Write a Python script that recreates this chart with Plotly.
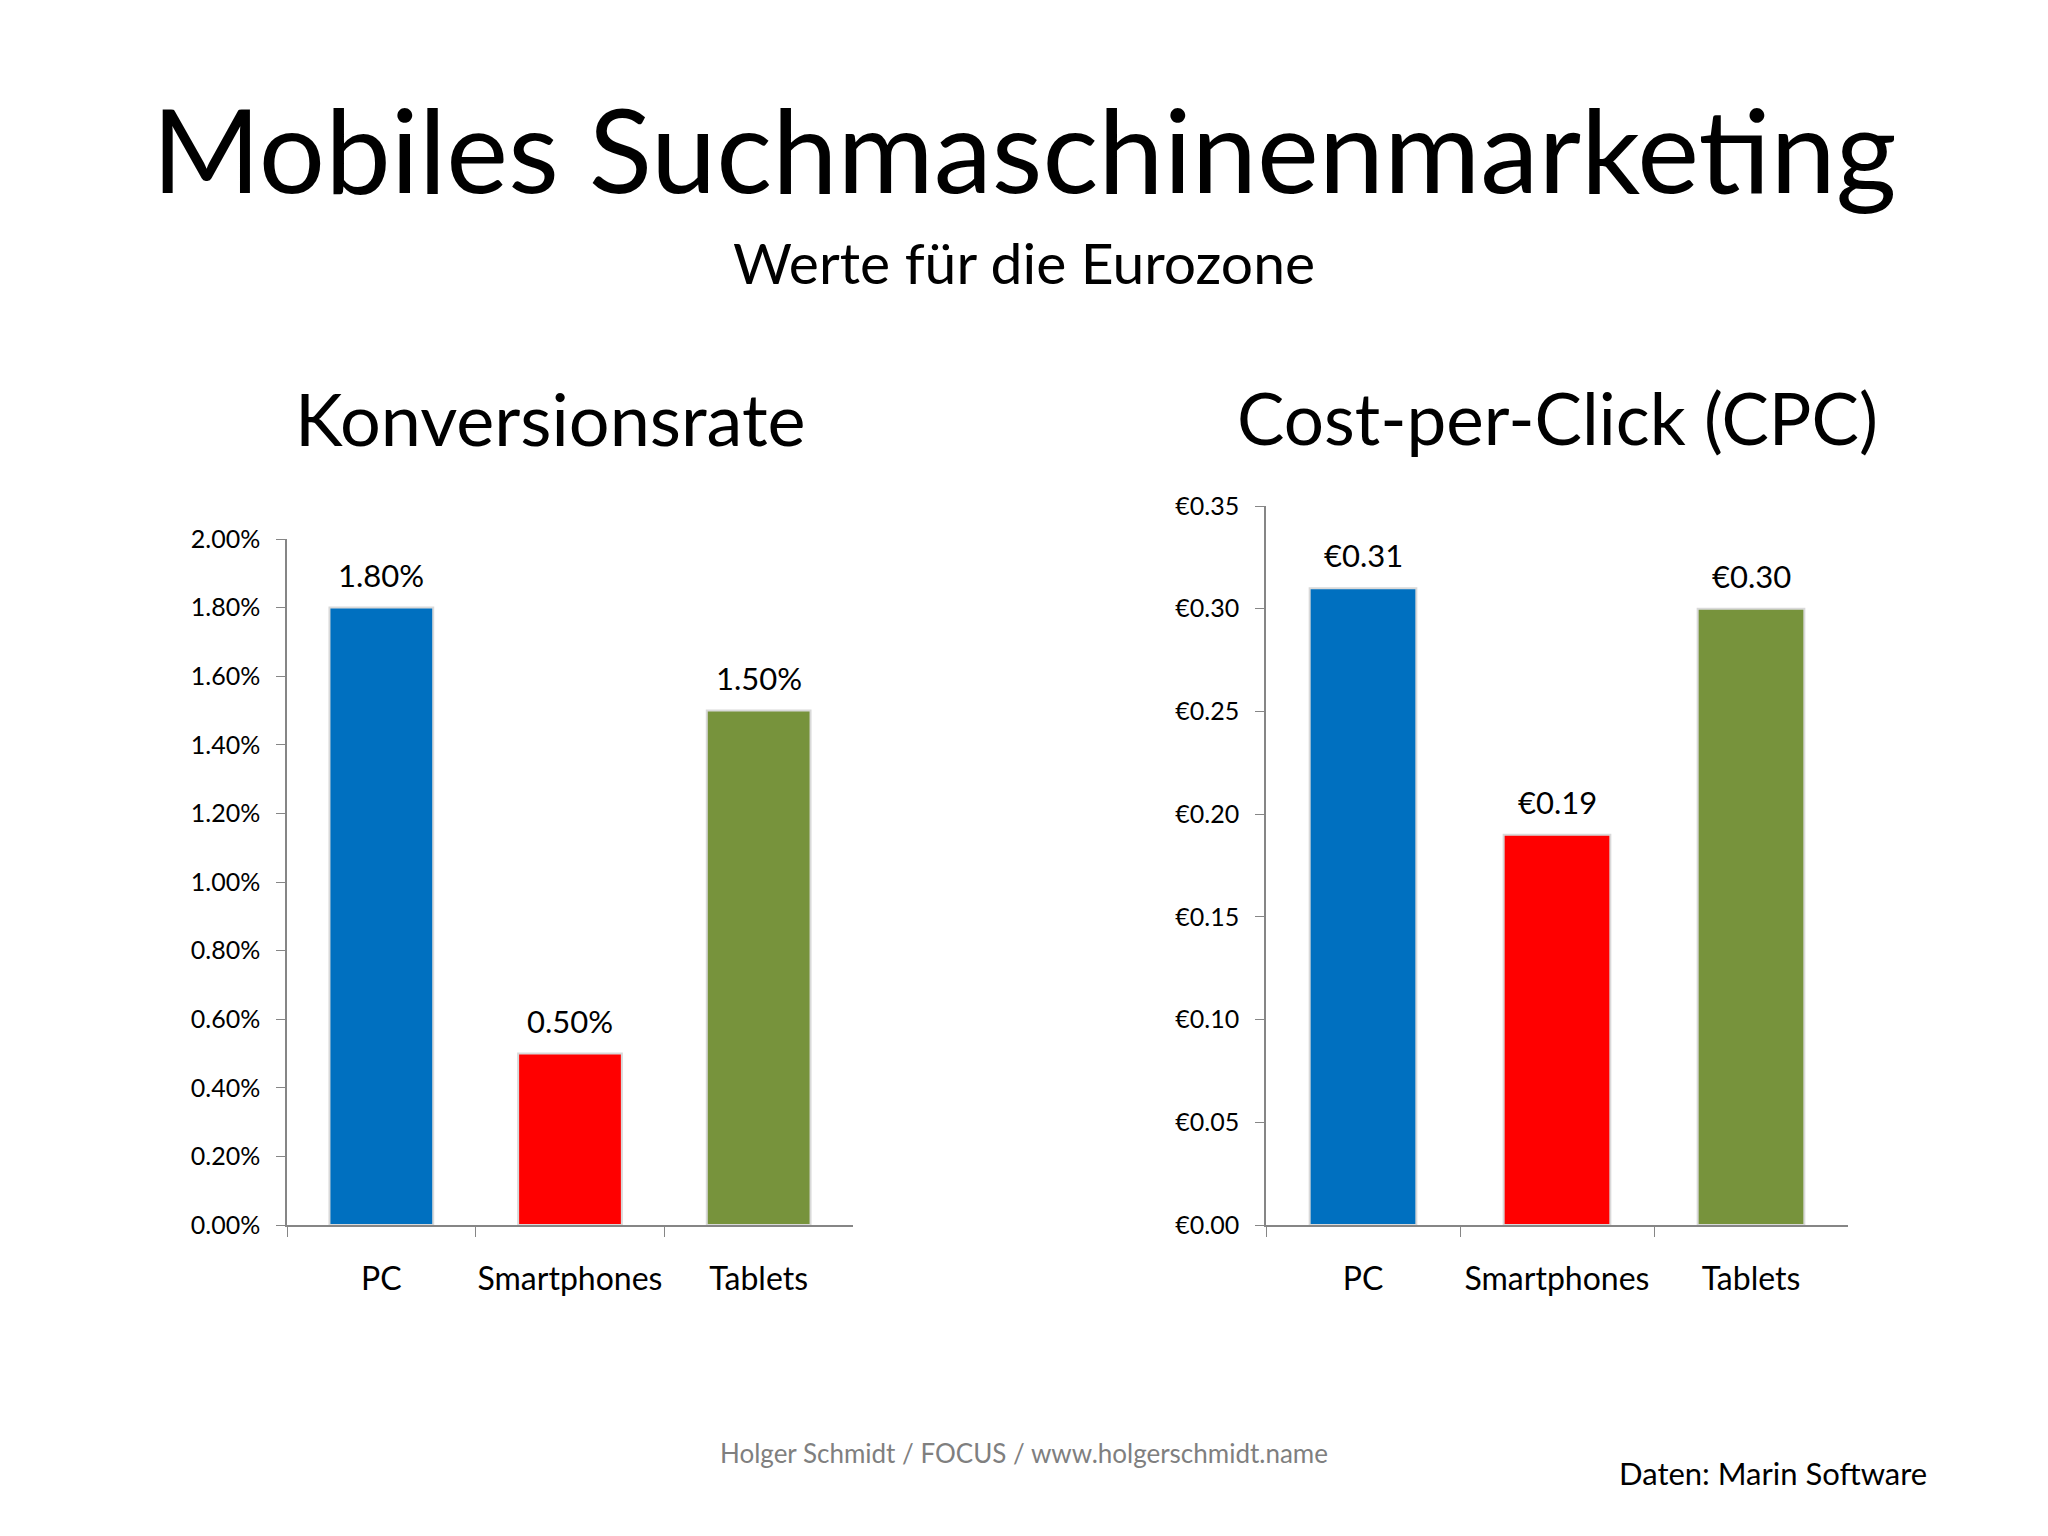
import plotly.graph_objects as go

categories = ["PC", "Smartphones", "Tablets"]
conversion_rate = [0.018, 0.005, 0.015]
cpc_eur = [0.31, 0.19, 0.30]
bar_colors = ["#0070C0", "#FF0000", "#77933C"]

title = "Mobiles Suchmaschinenmarketing"
subtitle = "Werte für die Eurozone"
left_title = "Konversionsrate"
right_title = "Cost-per-Click (CPC)"
footer = "Holger Schmidt / FOCUS / www.holgerschmidt.name"
source = "Daten: Marin Software"

W, H = 2032, 1508
OX, OY = 8, 8
FONT = "Lato"

def px(x):
    return (x - OX) / W

def py(y):
    return 1 - (y - OY) / H

fig = go.Figure()

fig.add_trace(go.Bar(
    x=categories, y=conversion_rate, marker=dict(color=bar_colors, line=dict(color="#d9d9d9", width=2)),
    xaxis="x", yaxis="y", width=0.55, showlegend=False, hoverinfo="skip"))
fig.add_trace(go.Bar(
    x=categories, y=cpc_eur, marker=dict(color=bar_colors, line=dict(color="#d9d9d9", width=2)),
    xaxis="x2", yaxis="y2", width=0.55, showlegend=False, hoverinfo="skip"))

axis_common = dict(showline=True, linecolor="#868686", linewidth=1.5, showgrid=False,
                   zeroline=False, ticks="outside", tickcolor="#868686", fixedrange=True,
                   automargin=False)

fig.update_layout(
    width=W, height=H, margin=dict(l=0, r=0, t=0, b=0, autoexpand=False),
    paper_bgcolor="white", plot_bgcolor="white",
    font=dict(family=FONT, color="black"),
    xaxis=dict(domain=[px(287), px(853)], anchor="y", type="category", tickson="boundaries",
               ticklen=10, tickangle=0, tickfont=dict(size=32), ticklabelstandoff=25, **axis_common),
    yaxis=dict(domain=[py(1225), py(539)], anchor="x", range=[0, 0.02], dtick=0.002,
               tickformat=".2%", ticklen=9, tickfont=dict(size=25), ticklabelstandoff=11, **axis_common),
    xaxis2=dict(domain=[px(1266), px(1848)], anchor="y2", type="category", tickson="boundaries",
                ticklen=10, tickangle=0, tickfont=dict(size=32), ticklabelstandoff=25, **axis_common),
    yaxis2=dict(domain=[py(1225), py(506)], anchor="x2", range=[0, 0.35], dtick=0.05,
                tickprefix="€", tickformat=".2f", ticklen=9, tickfont=dict(size=25),
                ticklabelstandoff=11, **axis_common),
    bargap=0.45,
)

annotations = [
    dict(text=title, x=px(1024), y=py(148), font=dict(size=117)),
    dict(text=subtitle, x=px(1024), y=py(262), font=dict(size=57)),
    dict(text=left_title, x=px(550), y=py(418), font=dict(size=72)),
    dict(text=right_title, x=px(1557), y=py(418), font=dict(size=71)),
    dict(text=footer, x=px(1024), y=py(1453), font=dict(size=26, color="#7f7f7f")),
    dict(text=source, x=px(1929), y=py(1473), xanchor="right", font=dict(size=31)),
]
for a in annotations:
    a.update(xref="paper", yref="paper", showarrow=False)
    a.setdefault("xanchor", "center")
    a["yanchor"] = "middle"

for c, v in zip(categories, conversion_rate):
    annotations.append(dict(x=c, y=v, xref="x", yref="y", text=f"{v*100:.2f}%",
                            showarrow=False, yanchor="bottom", yshift=12, font=dict(size=31)))
for c, v in zip(categories, cpc_eur):
    annotations.append(dict(x=c, y=v, xref="x2", yref="y2", text=f"€{v:.2f}",
                            showarrow=False, yanchor="bottom", yshift=12, font=dict(size=31)))

fig.update_layout(annotations=annotations)

fig.write_html("out.html")
